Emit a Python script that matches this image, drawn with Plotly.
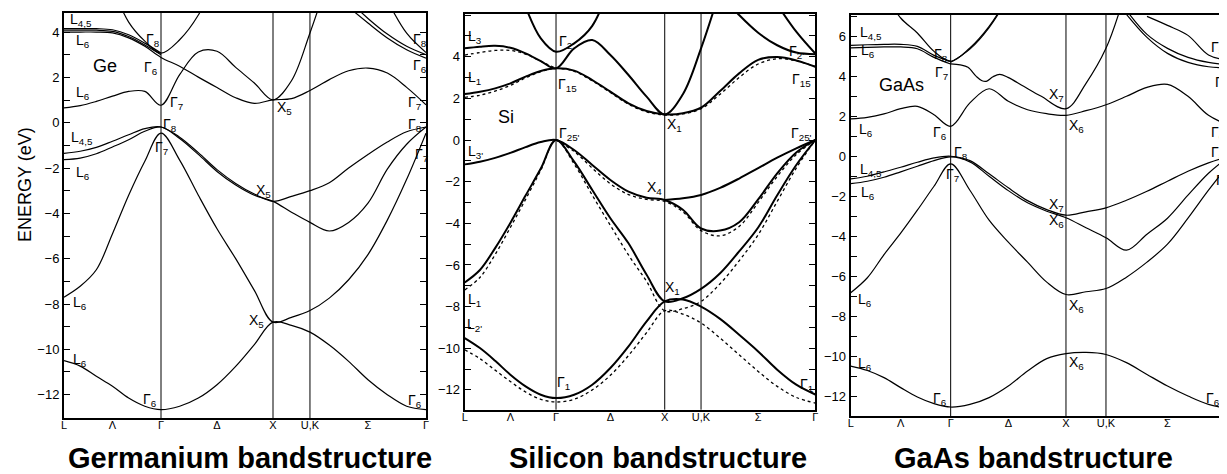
import numpy as np
import plotly.graph_objects as go

N = None
W, H = 1227, 474

# ---------------- high-symmetry positions (L, Γ, X, U/K, Γ) ----------------
SYM_LABELS = ["L", "Λ", "Γ", "Δ", "X", "U,K", "Σ", "Γ"]
GE_SYM = [0.0, 0.866, 1.866, 2.196, 3.232]
SI_SYM = [0.0, 0.84, 1.84, 2.174, 3.225]
GA_SYM = [0.0, 0.867, 1.867, 2.214, 3.281]

GE_YRANGE = [-13.03, 4.84]
SI_YRANGE = [-12.95, 6.05]
GA_YRANGE = [-13.0, 7.07]

GE_YLABELS = [4, 2, 0, -2, -4, -6, -8, -10, -12]
SI_YLABELS = [6, 4, 2, 0, -2, -4, -6, -8, -10, -12]
GA_YLABELS = [6, 4, 2, 0, -2, -4, -6, -8, -10, -12]

# band energies (eV) sampled at: L->Γ (7 pts), Γ->X (6), X->UK (2), UK->Γ (6)
# ---------------- Germanium ----------------
GE_V1 = [-10.5, -10.74, -11.19, -11.63, -12.15, -12.51, -12.66,
         -12.51, -12.15, -11.56, -10.75, -9.79, -8.8,
         -8.94, -9.24,
         -9.81, -10.53, -11.34, -12.0, -12.51, -12.66]
GE_V2 = [-7.7, -7.22, -6.49, -4.9, -3.2, -1.7, -0.46,
         -1.65, -3.2, -4.68, -6.0, -7.4, -8.8,
         -8.59, -8.29,
         -7.74, -6.93, -5.82, -4.3, -2.5, -0.46]
GE_V3 = [-1.63, -1.56, -1.37, -1.07, -0.75, -0.38, -0.19,
         -0.7, -1.4, -2.15, -2.75, -3.2, -3.47,
         -3.95, -4.4,
         -4.78, -4.4, -3.55, -2.05, -0.95, -0.19]
GE_V4 = [-1.35, -1.26, -1.09, -0.82, -0.53, -0.26, -0.19,
         -0.64, -1.32, -2.07, -2.68, -3.15, -3.47,
         -3.25, -3.0,
         -2.65, -2.0, -1.4, -0.85, -0.4, -0.19]
GE_C1 = [0.65, 0.75, 0.94, 1.17, 1.38, 1.38, 0.77,
         2.12, 3.12, 3.15, 2.44, 1.75, 1.01,
         1.85, 3.96,
         6.5, N, N, N, N, N]
GE_C2 = [4.0, 4.0, 4.0, 3.96, 3.74, 3.37, 2.88,
         2.49, 2.01, 1.55, 1.1, 0.85, 1.01,
         1.06, 1.42,
         1.9, 2.29, 2.41, 2.19, 1.56, 0.79]
GE_C3 = [N, N, N, 6.0, 4.44, 3.6, 3.07,
         3.66, 4.75, 6.5, N, N, N,
         N, N,
         N, N, N, N, N, N]
GE_C4 = [4.15, 4.15, 4.15, 4.1, 3.88, 3.51, 3.07,
         N, N, N, N, N, N, N, N, N, N, N, N, N, N]
GE_C5 = [4.08, 4.08, 4.08, 4.03, 3.8, 3.43, 3.0,
         N, N, N, N, N, N, N, N, N, N, N, N, N, N]
GE_C6 = [N] * 16 + [5.1, 4.4, 3.74, 3.22, 2.85]
GE_C7 = [N] * 16 + [5.4, 4.6, 3.91, 3.37, 3.0]
GE_C8 = [N] * 18 + [5.4, 3.95, 3.1]

# ---------------- Silicon (solid) ----------------
SI_V1 = [-9.51, -9.99, -10.6, -11.27, -11.83, -12.23, -12.39,
         -12.23, -11.75, -10.95, -9.91, -8.71, -7.75,
         -7.66, -8.0,
         -8.59, -9.35, -10.15, -11.03, -11.75, -12.22]
SI_V2 = [-6.84, -6.24, -5.19, -3.98, -2.67, -1.37, 0.0,
         -1.04, -2.4, -3.76, -4.96, -6.47, -7.75,
         -7.6, -7.15,
         -6.4, -5.35, -4.2, -2.65, -1.2, 0.0]
SI_V3 = [-1.17, -1.04, -0.86, -0.62, -0.34, -0.1, 0.0,
         -0.48, -1.2, -1.92, -2.48, -2.77, -2.88,
         -3.35, -4.25,
         -4.35, -3.95, -2.85, -1.6, -0.6, 0.0]
SI_V4 = [N] * 12 + [-2.88,
                    -2.8, -2.64,
                    -2.3, -1.85, -1.35, -0.85, -0.4, 0.0]
SI_C1 = [2.21, 2.32, 2.48, 2.72, 3.04, 3.31, 3.44,
         3.33, 2.88, 2.32, 1.76, 1.39, 1.23,
         1.28, 1.55,
         2.35, 3.2, 3.85, 3.98, 3.82, 3.52]
SI_C2 = [4.4, 4.48, 4.52, 4.43, 4.16, 3.79, 3.44,
         4.4, 4.8, 4.08, 3.12, 2.08, 1.23,
         2.2, 4.4,
         7.2, N, N, N, N, N]
SI_C3 = [N, N, N, N, 6.4, 4.88, 4.24,
         4.64, 5.48, 7.5, N, N, N,
         N, N, N, N, N, N, N, N]
SI_C4 = [N] * 15 + [7.0, 6.0, 5.15, 4.55, 4.2, 4.12]
SI_C5 = [N] * 18 + [6.5, 5.2, 4.15]

# ---------------- Silicon (dotted, second calculation) ----------------
SI_V1D = [-10.07, -10.5, -11.05, -11.6, -12.1, -12.45, -12.58,
          -12.45, -12.0, -11.3, -10.35, -9.25, -8.2,
          -8.36, -8.79,
          -9.51, -10.31, -11.11, -11.83, -12.36, -12.63]
SI_V2D = [-7.2, -6.6, -5.5, -4.2, -2.85, -1.45, 0.0,
          -1.15, -2.65, -4.1, -5.52, -6.79, -8.2,
          -8.1, -7.75,
          -6.9, -5.8, -4.55, -2.95, -1.35, 0.0]
SI_V3D = [N] * 6 + [0.0,
                    -0.55, -1.35, -2.1, -2.62, -2.85, -2.95,
                    -3.45, -4.35,
                    -4.6, -4.15, -3.0, -1.75, -0.7, 0.0]
SI_C1D = [2.05, 2.15, 2.35, 2.62, 2.98, 3.28, 3.44,
          3.3, 2.84, 2.28, 1.72, 1.35, 1.2,
          1.25, 1.5,
          2.2, 3.0, 3.65, 3.9, 3.8, 3.52]
SI_C2D = [4.08, 4.2, 4.3, 4.3, 4.12, 3.78, 3.44,
          N, N, N, N, N, N, N, N, N, N, N, N, N, N]

# ---------------- GaAs ----------------
GA_V1 = [-10.5, -10.72, -11.08, -11.58, -12.05, -12.38, -12.55,
         -12.42, -12.08, -11.5, -10.75, -10.13, -9.88,
         -9.82, -9.92,
         -10.33, -10.92, -11.5, -12.0, -12.42, -12.62]
GA_V2 = [-6.83, -6.08, -4.92, -3.85, -2.7, -1.5, -0.38,
         -1.7, -3.2, -4.3, -5.3, -6.3, -6.92,
         -6.78, -6.62,
         -6.05, -5.3, -4.4, -3.1, -1.7, -0.4]
GA_V3 = [-1.37, -1.25, -1.05, -0.78, -0.5, -0.22, -0.03,
         -0.28, -1.0, -1.72, -2.33, -2.75, -3.08,
         -3.58, -4.08,
         -4.7, -3.9, -3.1, -1.95, -0.85, 0.0]
GA_V4 = [-1.13, -1.0, -0.78, -0.55, -0.3, -0.08, 0.0,
         -0.22, -0.88, -1.58, -2.22, -2.67, -2.95,
         -2.78, -2.58,
         -2.2, -1.75, -1.25, -0.75, -0.33, 0.0]
GA_C1 = [1.87, 1.95, 2.12, 2.38, 2.5, 2.08, 1.5,
         2.67, 3.38, 2.75, 2.33, 2.13, 2.05,
         2.28, 2.58,
         3.0, 3.45, 3.6, 3.0, 2.05, 1.55]
GA_C2 = [5.55, 5.58, 5.6, 5.6, 5.5, 5.05, 4.75,
         N, N, N, N, N, N, N, N, N, N, N, N, N, N]
GA_C3 = [5.42, 5.45, 5.47, 5.47, 5.38, 4.95, 4.62,
         N, N, N, N, N, N, N, N, N, N, N, N, N, N]
GA_C4 = [N, N, 8.2, 6.92, 6.17, 5.25, 4.75,
         5.42, 6.5, 8.0, N, N, N,
         N, N, N, N, N, N, N, N]
GA_C4B = [N] * 6 + [4.7,
                    5.36, 6.44, 7.95, N, N, N,
                    N, N, N, N, N, N, N, N]
GA_C5 = [N] * 15 + [7.1, 5.95, 5.15, 4.7, 4.48, 4.42]
GA_C5B = [N] * 15 + [7.3, 6.1, 5.4, 4.95, 4.7, 4.58]
GA_C6 = [N] * 16 + [7.0, 6.55, 6.05, 5.07, 4.8]
# Γ7 conduction band with the small wiggle along Δ (own k samples)
GA_WIG_K = [0.867, 0.95, 1.017, 1.089, 1.139, 1.176, 1.234, 1.292, 1.364,
            1.5, 1.653, 1.867, 2.041, 2.214, 2.35]
GA_WIG_E = [4.62, 4.57, 4.45, 4.0, 3.78, 3.75, 3.98, 4.1, 3.95,
            3.5, 3.0, 2.38, 3.65, 5.4, 7.6]

# ---------------- point labels: (text, k, E) ----------------
GE_POINT_LABELS = [
    ("L<sub>4,5</sub>", 0.15, 4.55), ("L<sub>6</sub>", 0.17, 3.6),
    ("Γ<sub>8</sub>", 0.795, 3.66), ("Γ<sub>6</sub>", 0.78, 2.41),
    ("L<sub>6</sub>", 0.17, 1.31), ("Γ<sub>7</sub>", 1.003, 0.87),
    ("X<sub>5</sub>", 1.97, 0.65), ("Γ<sub>8</sub>", 0.944, -0.09),
    ("L<sub>4,5</sub>", 0.16, -0.68), ("Γ<sub>7</sub>", 0.869, -1.12),
    ("L<sub>6</sub>", 0.17, -2.22), ("X<sub>5</sub>", 1.777, -3.03),
    ("L<sub>6</sub>", 0.14, -7.96), ("L<sub>6</sub>", 0.14, -10.46),
    ("X<sub>5</sub>", 1.717, -8.76), ("Γ<sub>6</sub>", 0.765, -12.22),
    ("Γ<sub>6</sub>", 3.13, -12.3),
    ("Γ<sub>8</sub>", 3.176, 3.66), ("Γ<sub>6</sub>", 3.176, 2.49),
    ("Γ<sub>7</sub>", 3.13, 0.87), ("Γ<sub>8</sub>", 3.13, -0.09),
    ("Γ<sub>7</sub>", 3.19, -1.41),
]
SI_POINT_LABELS = [
    ("L<sub>3</sub>", 0.092, 4.96), ("Γ<sub>2'</sub>", 0.935, 4.72),
    ("L<sub>1</sub>", 0.087, 2.96), ("Γ<sub>15</sub>", 0.95, 2.64),
    ("X<sub>1</sub>", 1.932, 0.72), ("Γ<sub>25'</sub>", 0.966, 0.27),
    ("Γ<sub>25'</sub>", 3.097, 0.27), ("Γ<sub>2'</sub>", 3.05, 4.24),
    ("Γ<sub>15</sub>", 3.097, 2.88), ("L<sub>3'</sub>", 0.1, -0.56),
    ("X<sub>4</sub>", 1.748, -2.32), ("X<sub>1</sub>", 1.916, -7.11),
    ("L<sub>1</sub>", 0.087, -7.67), ("L<sub>2'</sub>", 0.09, -8.9),
    ("Γ<sub>1</sub>", 0.905, -11.67), ("Γ<sub>1</sub>", 3.143, -11.75),
]
GA_POINT_LABELS = [
    ("L<sub>4,5</sub>", 0.179, 6.17), ("L<sub>6</sub>", 0.15, 5.25),
    ("Γ<sub>8</sub>", 0.786, 5.08), ("Γ<sub>7</sub>", 0.786, 4.17),
    ("X<sub>7</sub>", 1.783, 3.05), ("L<sub>6</sub>", 0.135, 1.33),
    ("Γ<sub>6</sub>", 0.772, 1.17), ("X<sub>6</sub>", 1.957, 1.5),
    ("Γ<sub>8</sub>", 0.959, 0.17), ("L<sub>4,5</sub>", 0.179, -0.67),
    ("Γ<sub>7</sub>", 0.887, -0.92), ("L<sub>6</sub>", 0.15, -1.83),
    ("X<sub>7</sub>", 1.783, -2.42), ("X<sub>6</sub>", 1.783, -3.25),
    ("Γ<sub>8</sub>", 3.186, 5.42), ("Γ<sub>7</sub>", 3.215, 3.67),
    ("Γ<sub>6</sub>", 3.186, 1.17), ("Γ<sub>8</sub>", 3.186, 0.17),
    ("Γ<sub>7</sub>", 3.225, -1.25),
    ("L<sub>6</sub>", 0.121, -7.17), ("X<sub>6</sub>", 1.957, -7.5),
    ("L<sub>6</sub>", 0.121, -10.42), ("X<sub>6</sub>", 1.957, -10.33),
    ("Γ<sub>6</sub>", 0.772, -12.17), ("Γ<sub>6</sub>", 3.142, -12.17),
]
MATERIAL_NAMES = ["Ge", "Si", "GaAs"]
MATERIAL_POS = [(0.363, 2.49), (0.383, 1.12), (0.439, 3.58)]
TITLES = ["Germanium bandstructure", "Silicon bandstructure", "GaAs bandstructure"]
TITLE_X_PX = [242, 650, 1025]
# shift (in k units) of the last "Γ" tick label so it stays inside the page
LAST_TICK_SHIFT = [0.0, 0.0, -0.028]

# ---------------- layout (pixel boxes of the three frames) ----------------
PANEL_PX = [  # left, right, top, bottom
    (56, 418, 5, 410),
    (456.7, 807.3, 6, 401.7),
    (842.7, 1221, 7, 408),
]


def kgrid(sym):
    segs = [np.linspace(sym[0], sym[1], 7),
            np.linspace(sym[1], sym[2], 7)[1:],
            np.linspace(sym[2], sym[3], 3)[1:],
            np.linspace(sym[3], sym[4], 7)[1:]]
    return np.concatenate(segs)


fig = go.Figure()


def add_band(k, e, xa, ya, width=1.2, dash="solid"):
    fig.add_trace(go.Scatter(
        x=list(k), y=e, mode="lines", xaxis=xa, yaxis=ya,
        line=dict(color="black", width=width, shape="spline", smoothing=1.0, dash=dash),
        connectgaps=False, hoverinfo="skip", showlegend=False))


panels = [
    (GE_SYM, GE_YRANGE, GE_YLABELS,
     [GE_V1, GE_V2, GE_V3, GE_V4, GE_C1, GE_C2, GE_C3, GE_C4, GE_C5, GE_C6, GE_C7, GE_C8],
     [], 1.2, GE_POINT_LABELS),
    (SI_SYM, SI_YRANGE, SI_YLABELS,
     [SI_V1, SI_V2, SI_V3, SI_V4, SI_C1, SI_C2, SI_C3, SI_C4, SI_C5],
     [SI_V1D, SI_V2D, SI_V3D, SI_C1D, SI_C2D], 2.0, SI_POINT_LABELS),
    (GA_SYM, GA_YRANGE, GA_YLABELS,
     [GA_V1, GA_V2, GA_V3, GA_V4, GA_C1, GA_C2, GA_C3, GA_C4, GA_C4B, GA_C5, GA_C5B, GA_C6],
     [], 1.2, GA_POINT_LABELS),
]

annotations = []
shapes = []
font_lbl = dict(family="Liberation Sans, Arial, sans-serif", size=14, color="black")

for i, (sym, yr, ylabels, bands, dotted, lw, plabels) in enumerate(panels):
    n = "" if i == 0 else str(i + 1)
    xa, ya = "x" + n, "y" + n
    k = kgrid(sym)
    for b in bands:
        add_band(k, b, xa, ya, width=lw)
    for b in dotted:
        add_band(k, b, xa, ya, width=1.3, dash="dot")
    if i == 2:
        add_band(GA_WIG_K, GA_WIG_E, xa, ya, width=lw)

    l, r, t, b_ = PANEL_PX[i]
    tickpos = [sym[0], (sym[0] + sym[1]) / 2, sym[1], (sym[1] + sym[2]) / 2,
               sym[2], sym[3], (sym[3] + sym[4]) / 2, sym[4] + LAST_TICK_SHIFT[i]]
    yt = list(range(int(np.ceil(yr[0])), int(np.floor(yr[1])) + 1))
    ytext = [(str(v).replace("-", "\u2212") if v in ylabels else "") for v in yt]
    fig.update_layout(**{
        ("xaxis" + n): dict(domain=[l / W, r / W], anchor=ya, range=[sym[0], sym[4]],
                            showgrid=False, zeroline=False, showline=True, mirror=True,
                            linecolor="black", linewidth=2, ticks="", automargin=False,
                            ticklabelstandoff=-4,
                            tickvals=tickpos, ticktext=SYM_LABELS,
                            tickfont=dict(family="Liberation Sans, Arial", size=11, color="black")),
        ("yaxis" + n): dict(domain=[1 - b_ / H, 1 - t / H], anchor=xa, range=yr,
                            showgrid=False, zeroline=False, showline=True, mirror="ticks",
                            linecolor="black", linewidth=2, ticks="inside", ticklen=6,
                            tickwidth=1, tickcolor="black", automargin=False,
                            tickvals=yt, ticktext=ytext,
                            tickfont=dict(family="Liberation Sans, Arial", size=13, color="black")),
    })
    for s in sym[1:4]:
        shapes.append(dict(type="line", xref=xa, yref=ya + " domain", x0=s, x1=s, y0=0, y1=1,
                           line=dict(color="black", width=1)))
    for txt, kk, ee in plabels:
        annotations.append(dict(text=txt, x=kk, y=ee, xref=xa, yref=ya, showarrow=False,
                                font=font_lbl, xanchor="center", yanchor="middle"))
    mk, me = MATERIAL_POS[i]
    annotations.append(dict(text=MATERIAL_NAMES[i], x=mk, y=me, xref=xa, yref=ya,
                            showarrow=False, xanchor="center", yanchor="middle",
                            font=dict(family="Liberation Sans, Arial", size=18, color="black")))
    annotations.append(dict(text="<b>" + TITLES[i] + "</b>", x=TITLE_X_PX[i] / W, y=1 - 450 / H,
                            xref="paper", yref="paper", showarrow=False,
                            xanchor="center", yanchor="middle",
                            font=dict(family="Liberation Sans, Arial", size=29, color="black")))

annotations.append(dict(text="ENERGY (eV)", x=17 / W, y=1 - 177 / H, xref="paper", yref="paper",
                        showarrow=False, textangle=-90, xanchor="center", yanchor="middle",
                        font=dict(family="Liberation Sans, Arial", size=18, color="black")))

fig.update_layout(width=W, height=H,
                  margin=dict(l=0, r=0, t=0, b=0, pad=0, autoexpand=False),
                  template="none",
                  paper_bgcolor="white", plot_bgcolor="white",
                  annotations=annotations, shapes=shapes, showlegend=False)

fig.write_html("out.html")
